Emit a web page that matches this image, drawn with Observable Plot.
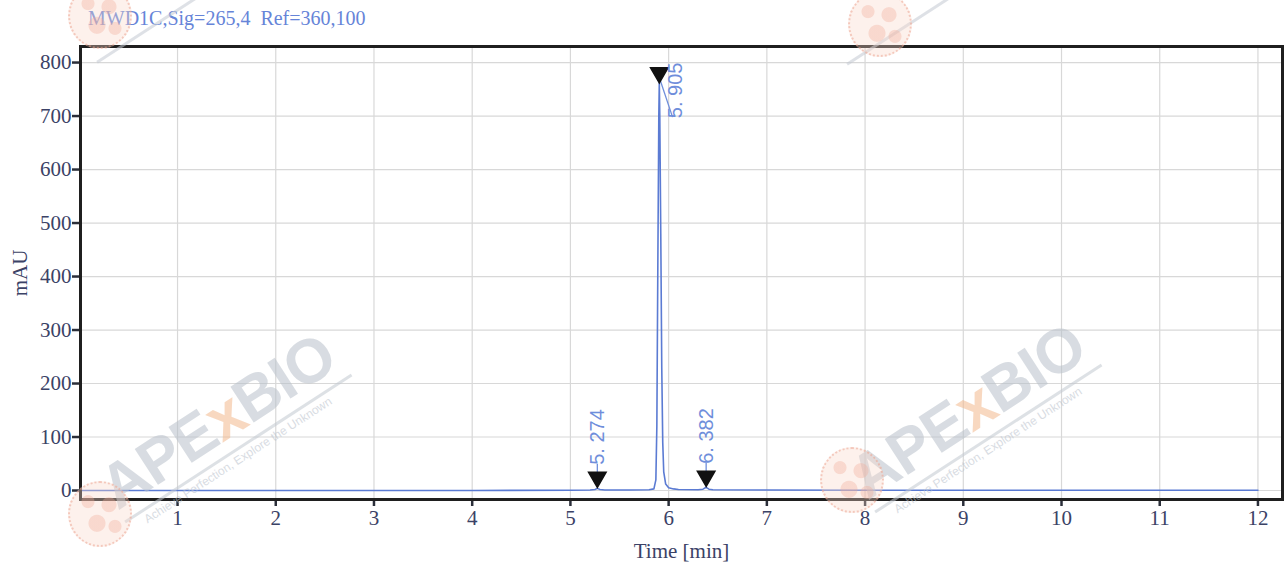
<!DOCTYPE html>
<html>
<head>
<meta charset="utf-8">
<script src="https://cdn.jsdelivr.net/npm/d3@7"></script>
<script src="https://cdn.jsdelivr.net/npm/@observablehq/plot@0.6"></script>
<style>
  html, body { margin: 0; padding: 0; background: #fff; }
  #wrap { position: relative; width: 1288px; height: 572px; overflow: hidden; }
  #title { position: absolute; left: 88px; top: 7px; font-family: "Liberation Serif", serif; font-size: 20px; color: #6684d8; white-space: pre; }
  .wm { position: absolute; pointer-events: none; transform-origin: center center; opacity: 0.55; }
  .wm .big { font-family: "Liberation Sans", Arial, sans-serif; font-weight: bold; font-size: 62px; color: #b9c1cb; letter-spacing: -1px; line-height: 1; }
  .wm .big span { color: #f3b98e; }
  .wm .bar { height: 3px; background: #c3c9d1; margin-top: 2px; width: 270px; }
  .wm .small { font-family: "Liberation Sans", Arial, sans-serif; font-size: 12px; color: #b9c1cb; margin-left: 18px; margin-top: 1px; }
  .blob { position: absolute; width: 60px; height: 62px; border-radius: 50%; pointer-events: none;
          background: radial-gradient(circle at 30% 30%, rgba(240,170,150,0.35) 0 6px, transparent 7px),
                      radial-gradient(circle at 65% 35%, rgba(240,170,150,0.35) 0 7px, transparent 8px),
                      radial-gradient(circle at 45% 65%, rgba(240,170,150,0.35) 0 8px, transparent 9px),
                      radial-gradient(circle at 75% 70%, rgba(240,170,150,0.35) 0 6px, transparent 7px),
                      rgba(250,215,200,0.35);
          border: 2px dotted rgba(235,160,140,0.5); }
  .stripe { position: absolute; height: 3px; width: 150px; background: #c3c9d1; opacity: 0.55; transform: rotate(-33deg); pointer-events: none; }
</style>
</head>
<body>
<div id="wrap">
  <div id="chart"></div>
  <div id="title">MWD1C,Sig=265,4  Ref=360,100</div>
</div>
<script>
// Chromatogram trace (time in min, absorbance in mAU)
const times = [0, 1, 2, 3, 4, 5, 5.2, 5.25, 5.274, 5.3, 5.35, 5.6, 5.8, 5.85, 5.87, 5.88, 5.89, 5.9, 5.905, 5.91, 5.92, 5.93, 5.94, 5.95, 5.97, 6.0, 6.05, 6.1, 6.3, 6.35, 6.382, 6.41, 6.45, 7, 8, 9, 10, 11, 12];
const mAU   = [0, 0, 0, 0, 0, 0.5, 1, 2, 4, 2, 1, 1, 1.5, 3, 20, 120, 420, 700, 762, 700, 480, 230, 90, 35, 12, 5, 3, 2, 1.5, 2.5, 6, 2.5, 1.5, 1, 0.5, 0.5, 0.5, 0.5, 0.5];

// Integrated peaks
const peakTimes  = [5.274, 5.905, 6.382];
const peakHeights = [4, 762, 6];
const peakLabels = ["5. 274", "5. 905", "6. 382"];

// Axis ticks
const xTicks = [1, 2, 3, 4, 5, 6, 7, 8, 9, 10, 11, 12];
const yTicks = [0, 100, 200, 300, 400, 500, 600, 700, 800];

const trace = times.map((t, i) => ({t, v: mAU[i]}));
const peaks = peakTimes.map((t, i) => ({t, h: peakHeights[i], label: peakLabels[i], big: peakHeights[i] > 100}));
const small = peaks.filter(d => !d.big);
const big = peaks.filter(d => d.big);

const axisColor = "#2b2f3a";
const lineColor = "#5b7bd3";
const labelColor = "#6f8edb";

const plot = Plot.plot({
  width: 1288,
  height: 572,
  marginLeft: 80,
  marginRight: 6,
  marginTop: 46,
  marginBottom: 73,
  style: {fontFamily: "'Liberation Serif', serif", fontSize: "21px", color: axisColor, background: "transparent"},
  x: {domain: [0.012, 12.25]},
  y: {domain: [-16.8, 830]},
  marks: [
    Plot.gridX(xTicks, {stroke: "#d8d8d8", strokeOpacity: 1, strokeWidth: 1.2}),
    Plot.gridY(yTicks, {stroke: "#d8d8d8", strokeOpacity: 1, strokeWidth: 1.2}),
    Plot.axisX(xTicks, {tickSize: 7, tickPadding: 4, strokeWidth: 2.5, stroke: axisColor, fill: "#3b4266", label: "Time [min]", labelAnchor: "center", labelArrow: "none", labelOffset: 58, fontSize: 21, tickFormat: d => String(d)}),
    Plot.axisY(yTicks, {tickSize: 8, tickPadding: 1, strokeWidth: 2.5, stroke: axisColor, fill: "#3b4266", label: "mAU", labelAnchor: "center", labelArrow: "none", labelOffset: 68, fontSize: 21, tickFormat: d => String(d)}),
    Plot.line(trace, {x: "t", y: "v", stroke: lineColor, strokeWidth: 1.6}),
    // small peaks: triangle, leader, vertical label
    Plot.ruleX(small, {x: "t", y1: d => d.h + 18, y2: d => d.h + 45, stroke: labelColor, strokeWidth: 1.3}),
    Plot.dot(small, {x: "t", y: d => d.h, dy: -11, symbol: "triangle", rotate: 180, r: 6.5, fill: "#111", stroke: "#111"}),
    Plot.text(small, {x: "t", y: d => d.h + 44, text: "label", rotate: -90, textAnchor: "start", lineAnchor: "middle", fill: labelColor, fontFamily: "'Liberation Sans', Arial, sans-serif", fontSize: 20}),
    // main peak: triangle, slanted leader, label beside
    Plot.link(big, {x1: "t", y1: d => d.h + 10, x2: d => d.t + 0.135, y2: d => d.h - 64, stroke: labelColor, strokeWidth: 1.3}),
    Plot.dot(big, {x: "t", y: d => d.h, dy: -10, symbol: "triangle", rotate: 180, r: 6.5, fill: "#111", stroke: "#111"}),
    Plot.text(big, {x: d => d.t + 0.17, y: d => d.h - 66, text: "label", rotate: -90, textAnchor: "start", lineAnchor: "middle", fill: labelColor, fontFamily: "'Liberation Sans', Arial, sans-serif", fontSize: 20}),
    Plot.frame({stroke: "#1f1f1f", strokeWidth: 3})
  ]
});
document.getElementById("chart").appendChild(plot);

// Faint watermarks (decorative)
const wrap = document.getElementById("wrap");
function watermark(cx, cy) {
  const d = document.createElement("div");
  d.className = "wm";
  d.innerHTML = '<div class="big">APE<span>x</span>BIO</div><div class="bar"></div><div class="small">Achieve Perfection, Explore the Unknown</div>';
  wrap.appendChild(d);
  const w = d.offsetWidth, h = d.offsetHeight;
  d.style.left = (cx - w / 2) + "px";
  d.style.top = (cy - h / 2) + "px";
  d.style.transform = "rotate(-33deg)";
}
function blob(cx, cy) {
  const b = document.createElement("div");
  b.className = "blob";
  b.style.left = (cx - 30) + "px";
  b.style.top = (cy - 31) + "px";
  wrap.appendChild(b);
}
function stripe(cx, cy) {
  const s = document.createElement("div");
  s.className = "stripe";
  s.style.left = (cx - 75) + "px";
  s.style.top = cy + "px";
  wrap.appendChild(s);
}
watermark(225, 428);
watermark(975, 418);
stripe(160, 20);
stripe(910, 22);
blob(98, 512);
blob(850, 478);
blob(98, 14);
blob(878, 22);
</script>
</body>
</html>
